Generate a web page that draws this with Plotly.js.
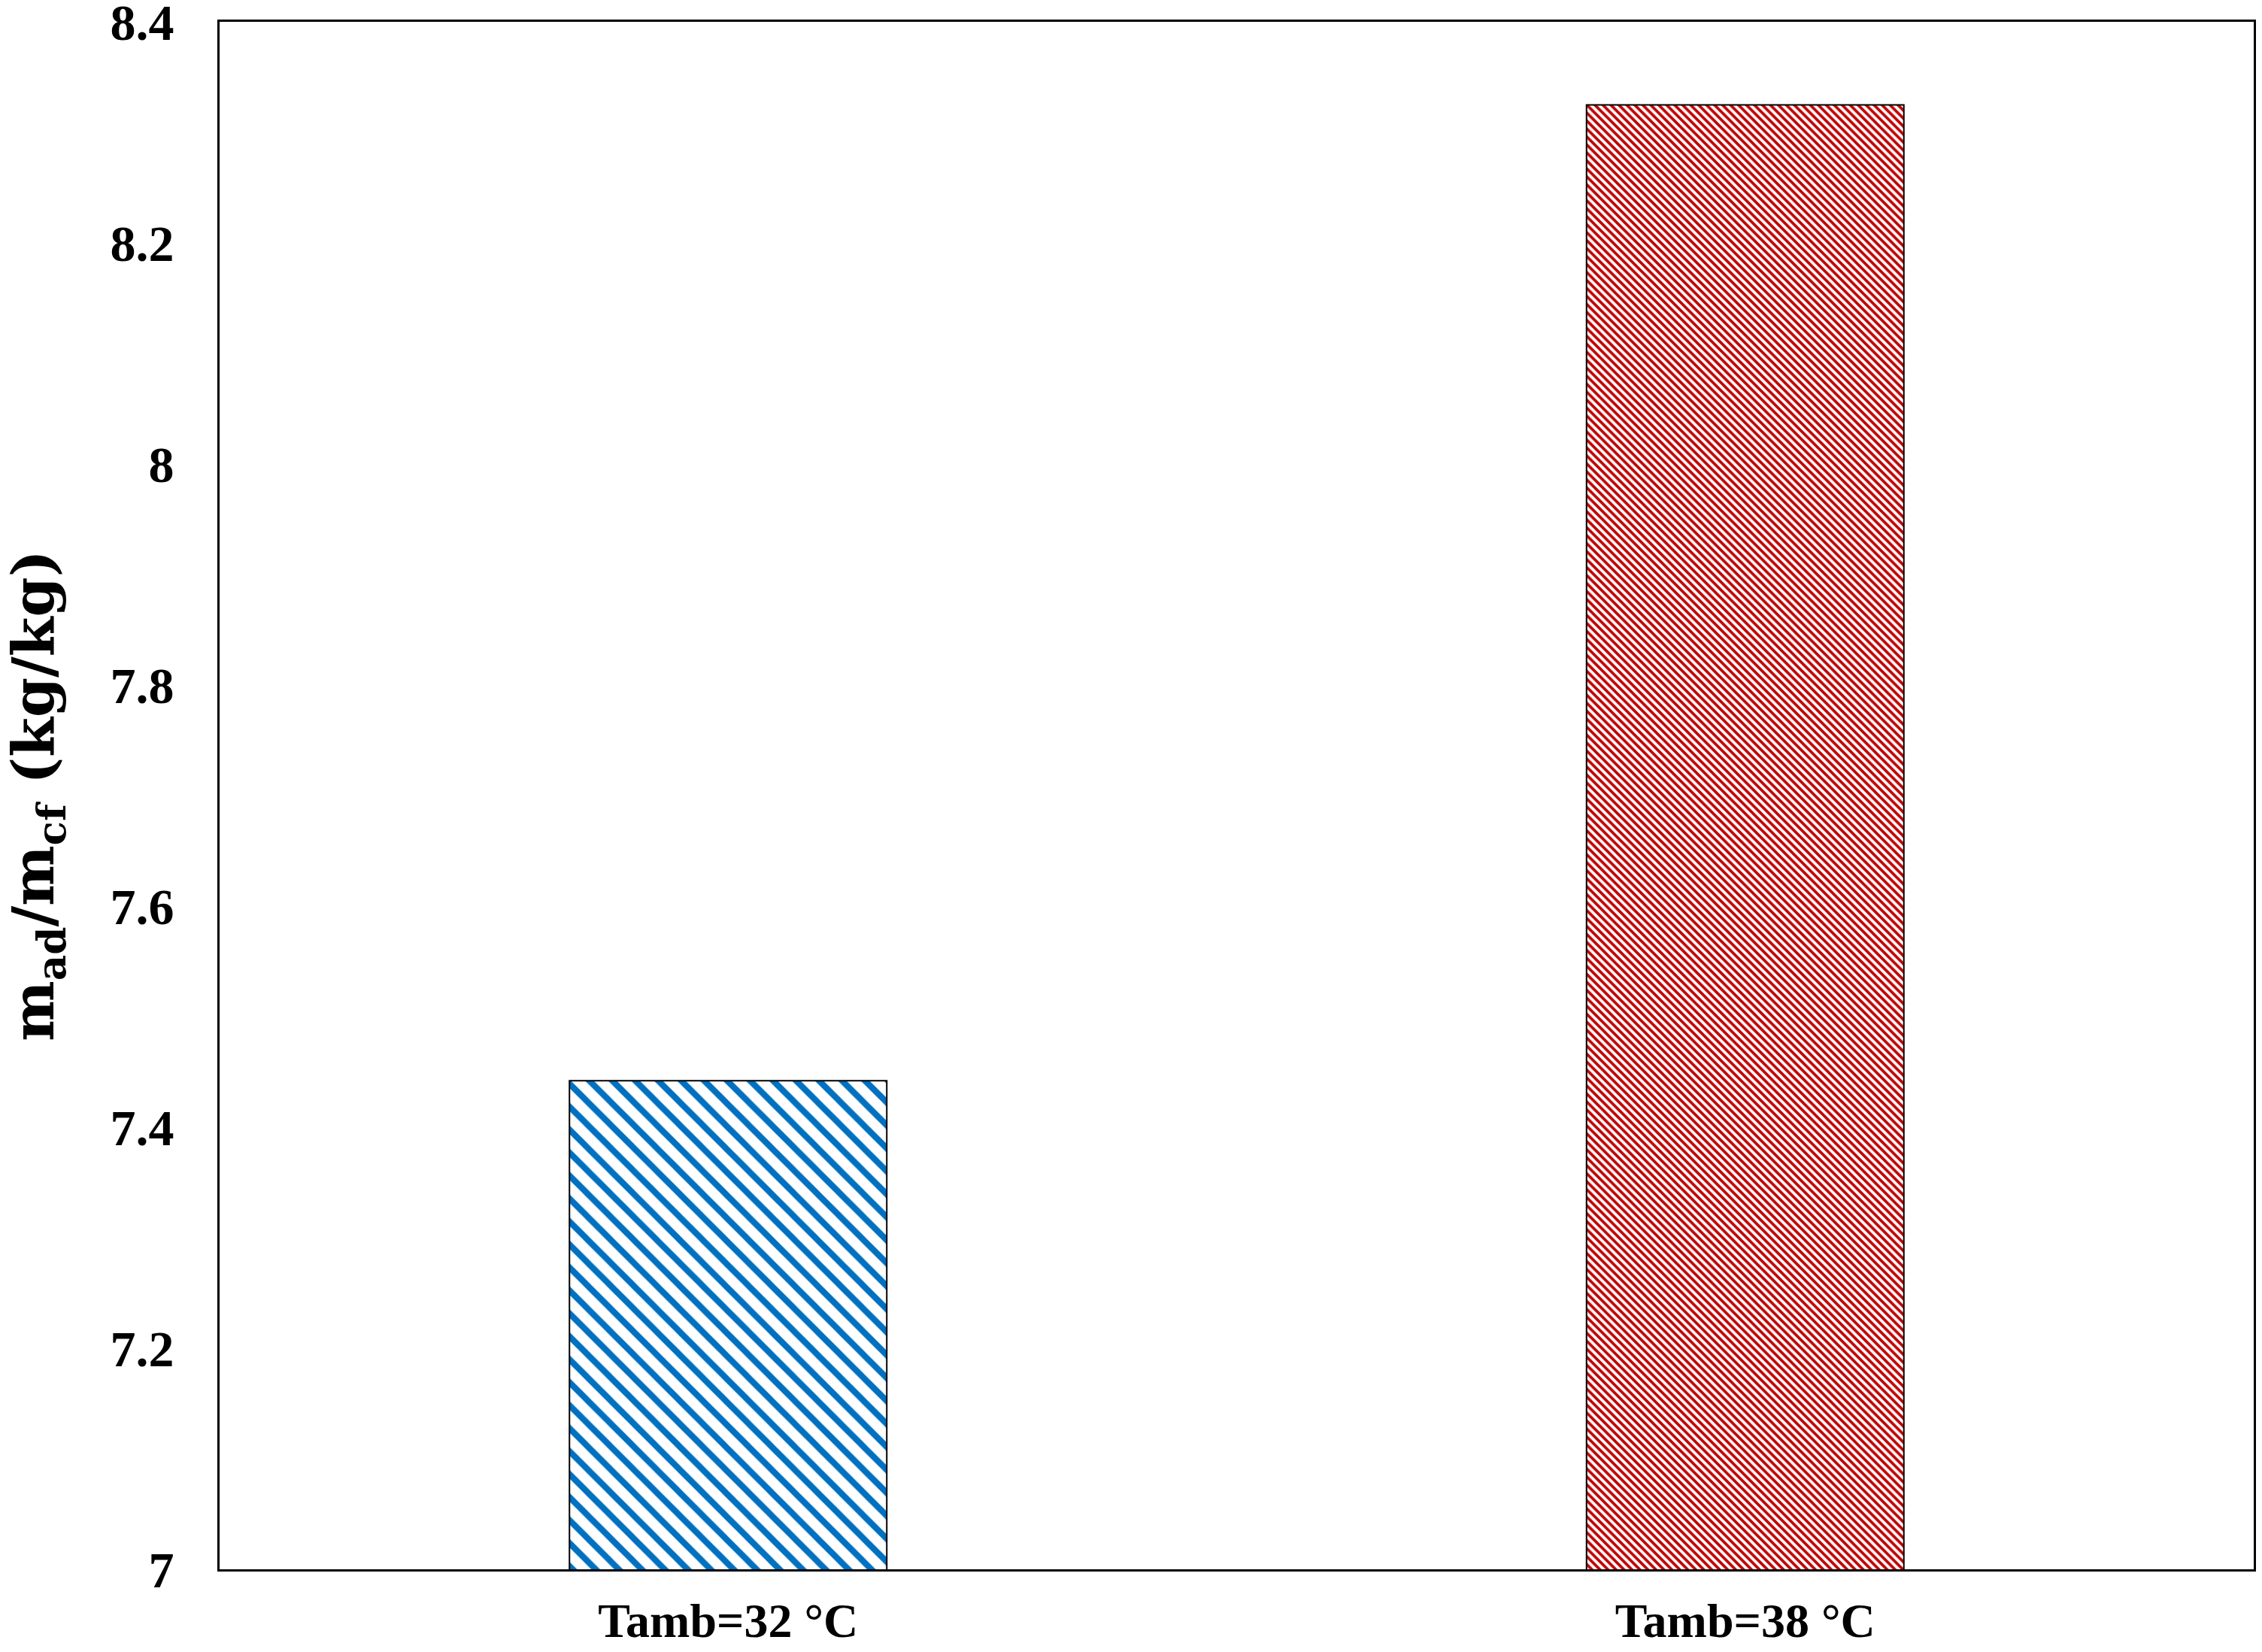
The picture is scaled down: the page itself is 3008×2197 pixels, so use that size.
<!DOCTYPE html>
<html>
<head>
<meta charset="utf-8">
<script src="https://cdn.plot.ly/plotly-3.0.1.min.js"></script>
<style>
  html, body { margin: 0; padding: 0; background: #FFFFFF; }
  #chart { width: 3008px; height: 2197px; }
</style>
</head>
<body>
<div id="chart"></div>
<script>
// mass ratio of adsorbent to chilled flow, per ambient temperature
const categories = ['Tamb=32 °C', 'Tamb=38 °C'];
const massRatio  = [7.442, 8.325];
const yTickVals  = [7, 7.2, 7.4, 7.6, 7.8, 8, 8.2, 8.4];

const barColors    = ['#0070C0', '#C00000'];
const hatchSizes   = [21.6, 7.5];
const hatchSolid   = [0.38, 0.5];

const yTickFont = { family: 'Liberation Serif, Times New Roman, serif', size: 68, color: '#000000', weight: 'bold' };
const xTickFont = { family: 'Liberation Serif, Times New Roman, serif', size: 64, color: '#000000', weight: 'bold' };
const titleFont = { family: 'DejaVu Serif, serif', size: 76, color: '#000000', weight: 'bold' };

Plotly.newPlot('chart', [{
  x: categories, y: massRatio, type: 'bar',
  marker: {
    color: barColors,
    line: { color: '#000000', width: 2 },
    pattern: {
      shape: ['\\', '\\'],
      fgcolor: barColors,
      bgcolor: '#FFFFFF',
      size: hatchSizes,
      solidity: hatchSolid,
      fillmode: 'replace',
    },
  },
  hoverinfo: 'skip',
}], {
  width: 3008, height: 2197,
  paper_bgcolor: '#FFFFFF', plot_bgcolor: '#FFFFFF',
  margin: { l: 292, r: 11, t: 29, b: 110 },
  showlegend: false,
  bargap: 0.688,
  xaxis: {
    type: 'category',
    showline: true, mirror: true, linecolor: '#000000', linewidth: 3,
    showgrid: false, zeroline: false, ticks: '',
    tickfont: xTickFont, ticklabelstandoff: 10, ticklabeloverflow: 'allow',
    automargin: false,
  },
  yaxis: {
    range: [7, 8.4001], tickvals: yTickVals,
    showline: true, mirror: true, linecolor: '#000000', linewidth: 3,
    showgrid: false, zeroline: false, ticks: '',
    tickfont: yTickFont, ticklabelstandoff: 44, ticklabeloverflow: 'allow',
    title: { text: 'm<sub>ad</sub>/m<sub>cf</sub> (kg/kg)', font: titleFont, standoff: 50 },
    automargin: false,
  },
}, { displayModeBar: false, responsive: false });
</script>
</body>
</html>
